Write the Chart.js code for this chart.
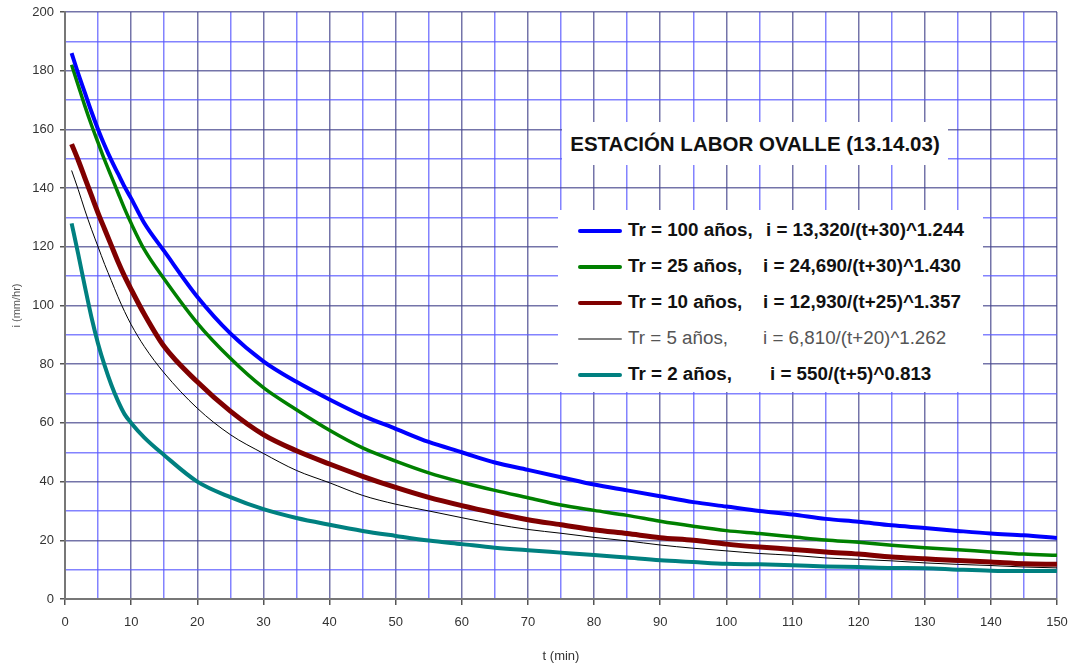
<!DOCTYPE html>
<html>
<head>
<meta charset="utf-8">
<script src="https://cdn.jsdelivr.net/npm/chart.js@4"></script>
<style>
  body { margin: 0; background: #fff; font-family: "Liberation Sans", Arial, sans-serif; }
  #wrap { position: relative; width: 1071px; height: 668px; }
  #titleBox { position: absolute; left: 562px; top: 122px; width: 386px; height: 43px; background: #fff;
    font-weight: bold; font-size: 20.5px; color: #111; line-height: 43px; text-align: center; }
  #legendBox { position: absolute; left: 558px; top: 210px; width: 425px; height: 182px; background: #fff; }
  .row { position: absolute; left: 0; height: 22px; font-size: 18.8px; font-weight: bold; color: #111; white-space: nowrap; line-height: 22px; }
  .row .sw { position: absolute; left: 20px; top: 10px; width: 44px; }
  .row .a { position: absolute; left: 70px; top: 0; }
  .row .b { position: absolute; top: 0; }
  .row.light { font-weight: normal; color: #555; }
</style>
</head>
<body>
<div id="wrap">
  <canvas id="idfChart" width="1071" height="668"></canvas>
  <div id="titleBox">ESTACIÓN LABOR OVALLE (13.14.03)</div>
  <div id="legendBox"></div>
</div>
<script>
// t (min)
const duration = [1, 2, 3, 4, 5, 6, 7, 8, 9, 10, 12, 15, 20, 25, 30, 35, 40, 45, 50, 55, 60, 65, 70, 75, 80, 85, 90, 95, 100, 105, 110, 115, 120, 125, 130, 135, 140, 145, 150];

// i (mm/hr)
const tr100 = [186, 179, 172.5, 166, 160, 154.5, 149.5, 145, 140.5, 136.5, 128, 118.5, 103, 90.5, 81, 74, 68, 62.5, 58, 53.5, 50, 46.5, 44, 41.5, 39, 37, 35, 33, 31.5, 30, 28.8, 27.3, 26.3, 25.1, 24.2, 23.2, 22.3, 21.7, 20.8];
const tr25 = [182, 175, 168, 161.5, 155.5, 149.5, 144, 138.5, 133, 128, 119, 109, 94, 82, 72, 64.5, 57.5, 51.5, 47, 43, 39.8, 37, 34.5, 32, 30.2, 28.5, 26.5, 24.8, 23.3, 22.3, 21.2, 20.1, 19.3, 18.3, 17.5, 16.8, 16, 15.3, 14.9];
const tr10 = [155, 149.5, 143.5, 137.5, 131.5, 126, 120.5, 115, 110, 105.5, 97, 86, 74, 64, 56, 50.5, 46, 41.8, 38, 34.6, 31.8, 29.3, 27, 25.3, 23.6, 22.3, 20.9, 20, 18.7, 17.7, 16.9, 16, 15.3, 14.3, 13.7, 13.1, 12.6, 12, 11.8];
const tr5 = [146, 139.5, 132.5, 126, 120, 114, 108.5, 103, 98, 93.5, 86, 77, 65, 56, 49.6, 43.8, 39.6, 35.3, 32.3, 30, 27.7, 25.5, 23.7, 22.4, 21, 19.8, 18.4, 17.3, 16.4, 15.5, 14.9, 14, 13.5, 13, 12.3, 11.8, 11.4, 10.9, 10.6];
const tr2 = [128, 117.5, 106.5, 96, 87, 79.5, 73, 67.5, 63, 60, 55, 49, 40, 34.7, 30.6, 27.6, 25.3, 23.2, 21.5, 19.9, 18.7, 17.5, 16.6, 15.8, 15, 14.1, 13.2, 12.6, 12, 11.8, 11.5, 11.1, 10.9, 10.6, 10.5, 10, 9.6, 9.5, 9.5];

const seriesLabels = ['Tr = 100 años,', 'Tr = 25 años,', 'Tr = 10 años,', 'Tr = 5 años,', 'Tr = 2 años,'];
const formulas = ['i = 13,320/(t+30)^1.244', 'i = 24,690/(t+30)^1.430', 'i = 12,930/(t+25)^1.357', 'i = 6,810/(t+20)^1.262', 'i = 550/(t+5)^0.813'];

const MAJOR = 'rgba(70, 70, 140, 0.75)';
const MINOR = 'rgba(90, 90, 255, 0.75)';

function toPoints(values) {
    return values.map((v, i) => ({ x: duration[i], y: v }));
}

const styles = [
    { color: '#0000ff', width: 4 },
    { color: '#008000', width: 3.5 },
    { color: '#800000', width: 5 },
    { color: '#000000', width: 1 },
    { color: '#008080', width: 4 }
];
const allSeries = [tr100, tr25, tr10, tr5, tr2];

const datasets = allSeries.map((vals, i) => ({
    label: seriesLabels[i],
    data: toPoints(vals),
    borderColor: styles[i].color,
    borderWidth: styles[i].width,
    pointRadius: 0,
    fill: false,
    cubicInterpolationMode: 'monotone'
}));

const tickFont = { family: "'Liberation Sans', Arial, sans-serif", size: 13 };

new Chart(document.getElementById('idfChart').getContext('2d'), {
    type: 'line',
    data: { datasets: datasets },
    options: {
        responsive: false,
        animation: false,
        layout: { padding: { top: 12, right: 14, left: 0, bottom: 0 } },
        plugins: { legend: { display: false }, tooltip: { enabled: false } },
        scales: {
            x: {
                type: 'linear',
                min: 0, max: 150,
                afterFit: s => { s.height = 69; s.paddingLeft = 0; s.paddingRight = 0; },
                ticks: {
                    stepSize: 5, autoSkip: false, maxRotation: 0,
                    color: '#333', font: tickFont, padding: 10,
                    callback: v => (v % 10 === 0 ? v : '')
                },
                grid: {
                    color: c => (c.tick && c.tick.value % 10 === 0 ? MAJOR : MINOR),
                    tickColor: c => (c.tick && c.tick.value % 10 === 0 ? '#555' : 'rgba(0,0,0,0)'),
                    lineWidth: 1.5,
                    tickLength: 6
                },
                border: { color: '#777', width: 2 },
                title: { display: true, text: 't (min)', color: '#333', font: { family: tickFont.family, size: 13 }, padding: { top: 4 } }
            },
            y: {
                min: 0, max: 200,
                afterFit: s => { s.width = 65; s.paddingTop = 0; s.paddingBottom = 0; },
                ticks: {
                    stepSize: 10, autoSkip: false,
                    color: '#333', font: tickFont, padding: 6,
                    callback: v => (v % 20 === 0 ? v : '')
                },
                grid: {
                    color: c => (c.tick && c.tick.value % 20 === 0 ? MAJOR : MINOR),
                    tickColor: c => (c.tick && c.tick.value % 20 === 0 ? '#555' : 'rgba(0,0,0,0)'),
                    lineWidth: 1.5,
                    tickLength: 5
                },
                border: { color: '#777', width: 2 },
                title: { display: true, text: 'i (mm/hr)', color: '#555', font: { family: tickFont.family, size: 11 }, padding: { top: 10, bottom: 0 } }
            }
        }
    }
});

// legend inside the plot, laid out like the original sheet
const formulaLeft = [208, 205, 205, 205, 212];
const legendBox = document.getElementById('legendBox');
seriesLabels.forEach((lab, i) => {
    const row = document.createElement('div');
    row.className = 'row' + (i === 3 ? ' light' : '');
    row.style.top = (9 + i * 36) + 'px';
    row.style.width = '425px';
    const sw = document.createElement('div');
    sw.className = 'sw';
    sw.style.height = (i === 3 ? 2 : 4) + 'px';
    sw.style.marginTop = (i === 3 ? 1 : 0) + 'px';
    sw.style.background = i === 3 ? '#808080' : styles[i].color;
    sw.style.borderRadius = '2px';
    const a = document.createElement('span');
    a.className = 'a';
    a.textContent = lab;
    const b = document.createElement('span');
    b.className = 'b';
    b.style.left = formulaLeft[i] + 'px';
    b.textContent = formulas[i];
    row.appendChild(sw);
    row.appendChild(a);
    row.appendChild(b);
    legendBox.appendChild(row);
});
</script>
</body>
</html>
